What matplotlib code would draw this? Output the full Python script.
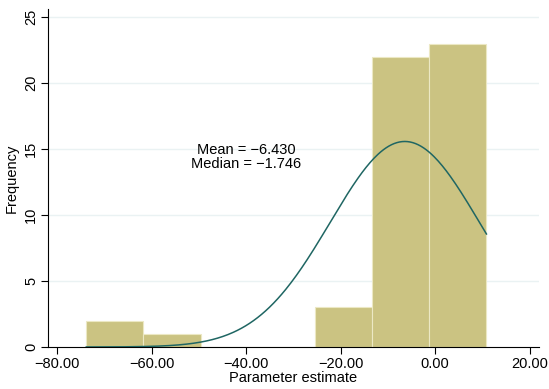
import numpy as np
import matplotlib.pyplot as plt
from matplotlib.ticker import FuncFormatter

plt.rcParams['font.family'] = ['Liberation Sans', 'DejaVu Sans']

# histogram bins
bin_edges = [-73.85, -61.75, -49.65, -37.55, -25.45, -13.35, -1.25, 10.85]
counts = [2, 1, 0, 0, 3, 22, 23]

# normal overlay
mean_est = -6.430
median_est = -1.746
sd_est = 15.8

edges = np.array(bin_edges)
widths = np.diff(edges)
n_obs = sum(counts)

fig = plt.figure(figsize=(5.49, 3.89), dpi=100)
ax = fig.add_axes([0.087, 0.108, 0.895, 0.868])

for y in [5, 10, 15, 20, 25]:
    ax.axhline(y, color='#eaf2f3', lw=1, zorder=0)

ax.bar(edges[:-1], counts, width=widths, align='edge',
       color='#cbc382', edgecolor='#ece8c4', linewidth=0.8, zorder=2)

xs = np.linspace(edges[0], edges[-1], 300)
dens = np.exp(-0.5 * ((xs - mean_est) / sd_est) ** 2) / (sd_est * np.sqrt(2 * np.pi))
ax.plot(xs, dens * n_obs * widths[0], color='#1f6663', lw=1.1, zorder=3)

ax.text(-40, 14.4, "Mean = \u2212%.3f\nMedian = \u2212%.3f" % (-mean_est, -median_est),
        ha='center', va='center', fontsize=10.5, linespacing=0.95, zorder=4)

ax.set_xlim(-82, 22)
ax.set_ylim(0, 25.6)
ax.set_xticks([-80, -60, -40, -20, 0, 20])
ax.xaxis.set_major_formatter(FuncFormatter(lambda v, p: ("%.2f" % v).replace('-', '\u2212')))
ax.set_yticks([0, 5, 10, 15, 20, 25])
for lab in ax.get_yticklabels():
    lab.set_rotation(90)
    lab.set_va('center')

ax.spines['top'].set_visible(False)
ax.spines['right'].set_visible(False)
ax.tick_params(direction='out', length=5, width=0.8, labelsize=10.5, pad=2)
ax.set_xlabel("Parameter estimate", fontsize=10.5, labelpad=0)
ax.set_ylabel("Frequency", fontsize=10.5, labelpad=4)

fig.savefig("out.png", dpi=100)
